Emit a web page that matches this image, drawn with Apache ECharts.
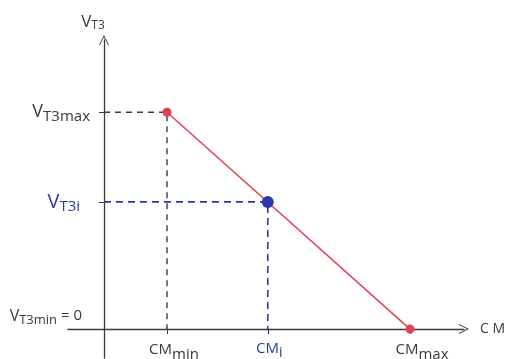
<!DOCTYPE html>
<html>
<head>
<meta charset="utf-8">
<script src="https://cdn.jsdelivr.net/npm/echarts@6/dist/echarts.min.js"></script>
<style>
  html, body { margin: 0; padding: 0; background: #fff; }
  #main { width: 509px; height: 359px; }
</style>
</head>
<body>
<div id="main"></div>
<script>
// tick positions on each axis (CMmin, CMi, CMmax) and (VT3min, VT3i, VT3max)
const xTicks = [1.75, 4.55, 8.5];
const yTicks = [0, 4.4, 7.5];
// labels split as "main|subscript|suffix"
const xTickLabels = ['CM|min', 'CM|i', 'CM|max'];
const yTickLabels = ['V|T3min| = 0', 'V|T3i', 'V|T3max'];
// characteristic line: from (CMmin, VT3max) to (CMmax, VT3min)
const lineX = [1.75, 8.5];
const lineY = [7.5, 0];
// operating point
const pointI = [4.55, 4.4];

const ink = '#3a3a3a';
const blue = '#2a3aa8';
const red = '#e0424f';
const chevron = 'path://M0,10 L5,0 L10,10 L9,10 L5,2 L1,10 Z';

const pick = (arr, v) => arr.findIndex(t => Math.abs(t - v) < 1e-6);

const makeRich = (big, small, color) => ({
  m: { fontSize: big, color: color, fontFamily: 'Open Sans' },
  s: { fontSize: small, color: color, fontFamily: 'Open Sans', padding: [8, 0, 0, 0] },
  e: { fontSize: big - 1, color: color, fontFamily: 'Open Sans' }
});

const fmt = (labels, ticks, tag) => (val) => {
  const i = pick(ticks, val);
  if (i < 0) return '';
  const p = labels[i].split('|');
  const k = tag + i;
  let s = '{' + k + 'm|' + p[0] + '}{' + k + 's|' + p[1] + '}';
  if (p[2]) s += '{' + k + 'e|' + p[2] + '}';
  return s;
};

const buildRich = (tag, specs) => {
  const rich = {};
  specs.forEach((sp, i) => {
    const r = makeRich(sp[0], sp[1], sp[2]);
    rich[tag + i + 'm'] = Object.assign(r.m, sp[3] || {});
    rich[tag + i + 's'] = Object.assign(r.s, sp[4] || {});
    rich[tag + i + 'e'] = Object.assign(r.e, sp[5] || {});
  });
  return rich;
};

const yRich = buildRich('y', [
  [16, 13, ink, { padding: [0, 0, 26, 0] }, { padding: [0, 0, 18, 0] }, { padding: [0, 8, 26, 0] }],
  [20, 15, blue, {}, { padding: [9, 10, 0, 0] }],
  [18, 15, ink, {}, { padding: [9, 0, 0, 0] }]
]);
const xRich = buildRich('x', [
  [15, 15, ink, { padding: [0, 0, 0, 14] }, { padding: [9, 0, 0, 0] }],
  [15, 14, blue, { padding: [0, 0, 0, 3] }],
  [15, 15, ink, { padding: [0, 0, 0, 24] }, { padding: [9, 0, 0, 0] }]
]);

const chart = echarts.init(document.getElementById('main'));
const option = {
  animation: false,
  grid: { left: 68, right: 45, top: 40, bottom: 1, outerBoundsMode: 'none' },
  xAxis: {
    type: 'value',
    min: -1,
    max: 10,
    splitLine: { show: false },
    axisLine: {
      onZero: true,
      symbol: ['none', chevron],
      symbolSize: [11, 10],
      lineStyle: { color: ink, width: 1.3 }
    },
    axisTick: { show: true, customValues: xTicks, length: 5, lineStyle: { color: ink } },
    axisLabel: {
      customValues: xTicks,
      margin: -20,
      formatter: fmt(xTickLabels, xTicks, 'x'),
      rich: xRich
    },
    name: 'C M',
    nameLocation: 'end',
    nameGap: 16,
    nameTextStyle: { fontSize: 14, color: ink, fontFamily: 'Open Sans' }
  },
  yAxis: {
    type: 'value',
    min: -1,
    max: 10,
    splitLine: { show: false },
    axisLine: {
      onZero: true,
      symbol: ['none', chevron],
      symbolSize: [11, 10],
      lineStyle: { color: ink, width: 1.3 }
    },
    axisTick: { show: true, customValues: yTicks.slice(1), length: 5, lineStyle: { color: ink } },
    axisLabel: {
      customValues: yTicks,
      margin: -22,
      formatter: fmt(yTickLabels, yTicks, 'y'),
      rich: yRich
    },
    name: '{m|V}{s|T3}',
    nameLocation: 'end',
    nameGap: 8,
    nameTextStyle: {
      padding: [0, 22, 0, 0],
      rich: {
        m: { fontSize: 17, color: ink, fontFamily: 'Open Sans' },
        s: { fontSize: 12, color: ink, fontFamily: 'Open Sans', padding: [8, 0, 0, 0] }
      }
    }
  },
  series: [
    {
      type: 'line',
      symbol: 'none',
      silent: true,
      lineStyle: { color: ink, width: 1.4, type: [6, 5] },
      data: [[0, lineY[0]], [lineX[0], lineY[0]], [lineX[0], 0]],
      z: 1
    },
    {
      type: 'line',
      symbol: 'none',
      silent: true,
      lineStyle: { color: blue, width: 1.6, type: [7, 5] },
      data: [[0, pointI[1]], [pointI[0], pointI[1]], [pointI[0], 0]],
      z: 1
    },
    {
      type: 'line',
      symbol: 'circle',
      symbolSize: 9,
      itemStyle: { color: red },
      lineStyle: { color: red, width: 1.5 },
      data: lineX.map((x, i) => [x, lineY[i]]),
      z: 3
    },
    {
      type: 'scatter',
      symbolSize: 12,
      itemStyle: { color: blue, opacity: 1 },
      data: [pointI],
      z: 4
    }
  ]
};
chart.setOption(option);
</script>
</body>
</html>
